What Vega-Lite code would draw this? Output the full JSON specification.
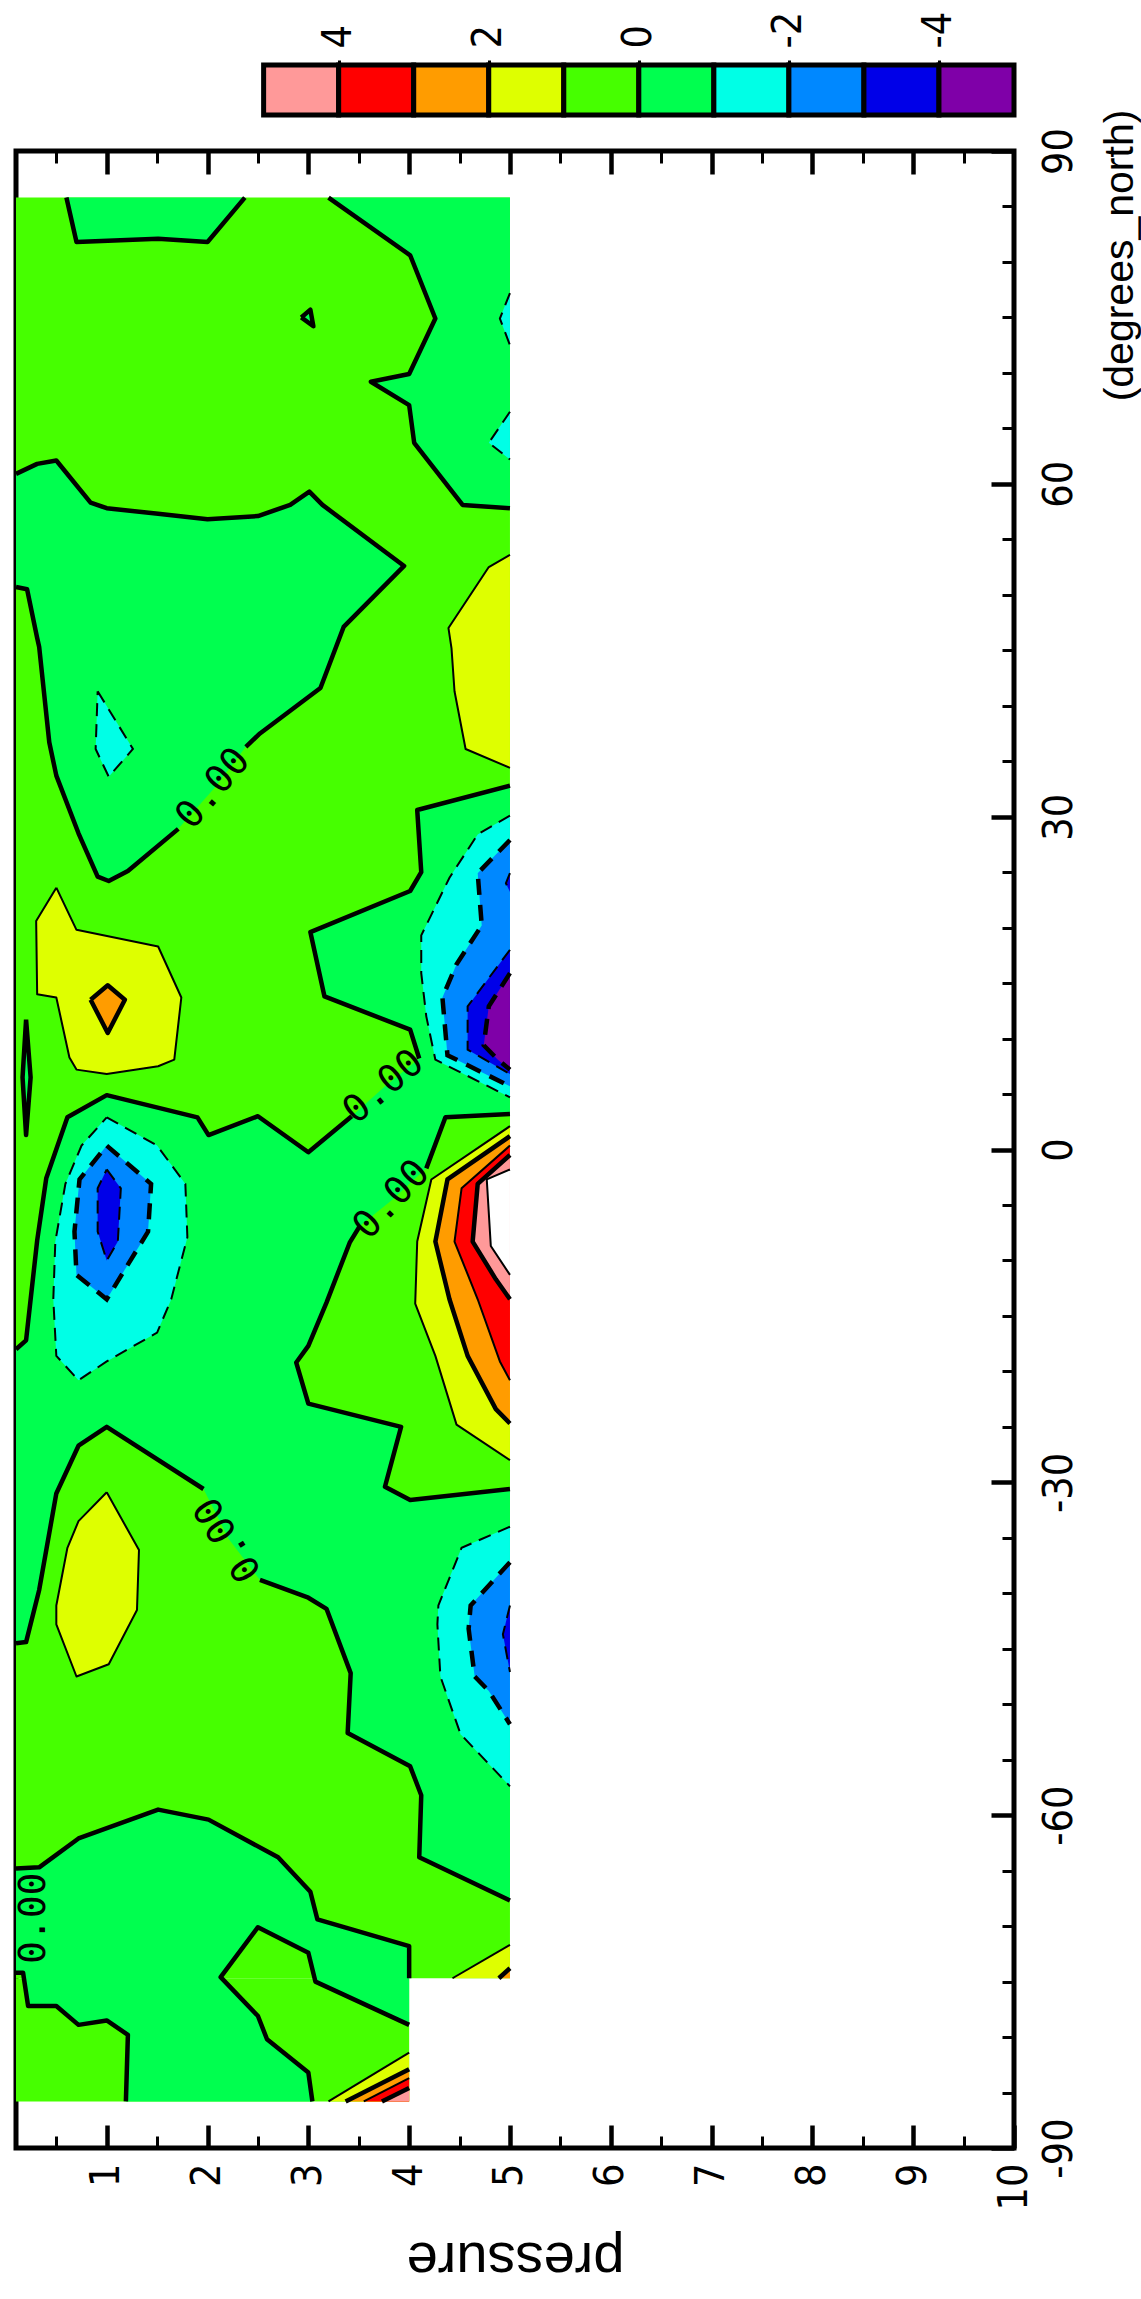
{
"$schema":"https://vega.github.io/schema/vega-lite/v6.json",
"padding":{"left":11,"top":11,"right":0,"bottom":6},
"spacing":36,
"bounds":"flush",
"datasets":{
"cb":[{"lo":4,"hi":5,"k":"pk"},{"lo":3,"hi":4,"k":"r"},{"lo":2,"hi":3,"k":"o"},{"lo":1,"hi":2,"k":"y"},{"lo":0,"hi":1,"k":"l"},{"lo":-1,"hi":0,"k":"g"},{"lo":-2,"hi":-1,"k":"c"},{"lo":-3,"hi":-2,"k":"a"},{"lo":-4,"hi":-3,"k":"b"},{"lo":-5,"hi":-4,"k":"pu"}],
"bg":[{"p1":0.1,"p2":5.0,"l1":-74.7,"l2":85.8},{"p1":0.1,"p2":4.0,"l1":-85.8,"l2":-74.7}],
"lab":[{"id":"a","p":2.06,"lat":32.5,"t":"0.00"},{"id":"b","p":3.75,"lat":5.6,"t":"0.00"},{"id":"c","p":3.83,"lat":-4.55,"t":"0.00"},{"id":"d","p":2.21,"lat":-35.1,"t":"0.00"},{"id":"e","p":0.28,"lat":-69.3,"t":"0.00"}],
"v":[
{"id":"G1","k":"g","o":1,"p":0.60,"lat":85.8,"c":0.60},{"id":"G1","k":"g","o":2,"p":0.70,"lat":81.8,"c":0.70},{"id":"G1","k":"g","o":3,"p":1.51,"lat":82.1,"c":1.51},{"id":"G1","k":"g","o":4,"p":2.00,"lat":81.8,"c":2.00},{"id":"G1","k":"g","o":5,"p":2.37,"lat":85.8,"c":2.37},
{"id":"G2","k":"g","o":1,"p":3.20,"lat":85.8,"c":3.20},{"id":"G2","k":"g","o":2,"p":4.01,"lat":80.6,"c":4.01},{"id":"G2","k":"g","o":3,"p":4.26,"lat":74.9,"c":4.26},{"id":"G2","k":"g","o":4,"p":4.00,"lat":69.9,"c":4.00},{"id":"G2","k":"g","o":5,"p":3.62,"lat":69.2,"c":3.62},{"id":"G2","k":"g","o":6,"p":4.00,"lat":67.1,"c":4.00},{"id":"G2","k":"g","o":7,"p":4.05,"lat":63.7,"c":4.05},{"id":"G2","k":"g","o":8,"p":4.53,"lat":58.1,"c":4.53},{"id":"G2","k":"g","o":9,"p":5.0,"lat":57.8,"c":5.0},{"id":"G2","k":"g","o":10,"p":5.0,"lat":85.8,"c":null},
{"id":"G3","k":"g","o":1,"p":0.1,"lat":60.9,"c":0.1},{"id":"G3","k":"g","o":2,"p":0.31,"lat":61.8,"c":0.31},{"id":"G3","k":"g","o":3,"p":0.50,"lat":62.1,"c":0.50},{"id":"G3","k":"g","o":4,"p":0.84,"lat":58.3,"c":0.84},{"id":"G3","k":"g","o":5,"p":1.00,"lat":57.8,"c":1.00},{"id":"G3","k":"g","o":6,"p":1.51,"lat":57.3,"c":1.51},{"id":"G3","k":"g","o":7,"p":2.00,"lat":56.8,"c":2.00},{"id":"G3","k":"g","o":8,"p":2.50,"lat":57.1,"c":2.50},{"id":"G3","k":"g","o":9,"p":2.82,"lat":58.1,"c":2.82},{"id":"G3","k":"g","o":10,"p":3.01,"lat":59.3,"c":3.01},{"id":"G3","k":"g","o":11,"p":3.14,"lat":58.1,"c":3.14},{"id":"G3","k":"g","o":12,"p":3.95,"lat":52.6,"c":3.95},{"id":"G3","k":"g","o":13,"p":3.35,"lat":47.1,"c":3.35},{"id":"G3","k":"g","o":14,"p":3.12,"lat":41.6,"c":3.12},{"id":"G3","k":"g","o":15,"p":2.52,"lat":37.5,"c":2.52},{"id":"G3","k":"g","o":16,"p":2.38,"lat":36.3,"c":2.38},{"id":"G3","k":"g","o":17,"p":2.06,"lat":32.5,"c":null},{"id":"G3","k":"g","o":18,"p":1.71,"lat":28.9,"c":1.71},{"id":"G3","k":"g","o":19,"p":1.21,"lat":25.1,"c":1.21},{"id":"G3","k":"g","o":20,"p":1.02,"lat":24.2,"c":1.02},{"id":"G3","k":"g","o":21,"p":0.91,"lat":24.6,"c":0.91},{"id":"G3","k":"g","o":22,"p":0.72,"lat":28.5,"c":0.72},{"id":"G3","k":"g","o":23,"p":0.50,"lat":33.7,"c":0.50},{"id":"G3","k":"g","o":24,"p":0.43,"lat":36.7,"c":0.43},{"id":"G3","k":"g","o":25,"p":0.33,"lat":45.3,"c":0.33},{"id":"G3","k":"g","o":26,"p":0.31,"lat":46.1,"c":0.31},{"id":"G3","k":"g","o":27,"p":0.21,"lat":50.5,"c":0.21},{"id":"G3","k":"g","o":28,"p":0.1,"lat":50.7,"c":0.1},
{"id":"G4","k":"g","o":1,"p":5.0,"lat":32.8,"c":5.0},{"id":"G4","k":"g","o":2,"p":4.08,"lat":30.6,"c":4.08},{"id":"G4","k":"g","o":3,"p":4.12,"lat":25.0,"c":4.12},{"id":"G4","k":"g","o":4,"p":4.01,"lat":23.3,"c":4.01},{"id":"G4","k":"g","o":5,"p":3.02,"lat":19.6,"c":3.02},{"id":"G4","k":"g","o":6,"p":3.16,"lat":13.8,"c":3.16},{"id":"G4","k":"g","o":7,"p":4.01,"lat":10.8,"c":4.01},{"id":"G4","k":"g","o":8,"p":4.10,"lat":8.2,"c":4.10},{"id":"G4","k":"g","o":9,"p":3.75,"lat":5.6,"c":null},{"id":"G4","k":"g","o":10,"p":3.43,"lat":3.0,"c":3.43},{"id":"G4","k":"g","o":11,"p":3.00,"lat":-0.25,"c":3.00},{"id":"G4","k":"g","o":12,"p":2.50,"lat":3.0,"c":2.50},{"id":"G4","k":"g","o":13,"p":2.01,"lat":1.3,"c":2.01},{"id":"G4","k":"g","o":14,"p":1.90,"lat":2.9,"c":1.90},{"id":"G4","k":"g","o":15,"p":1.00,"lat":4.9,"c":1.00},{"id":"G4","k":"g","o":16,"p":0.61,"lat":2.9,"c":0.61},{"id":"G4","k":"g","o":17,"p":0.40,"lat":-2.6,"c":0.40},{"id":"G4","k":"g","o":18,"p":0.31,"lat":-8.2,"c":0.31},{"id":"G4","k":"g","o":19,"p":0.20,"lat":-17.2,"c":0.20},{"id":"G4","k":"g","o":20,"p":0.1,"lat":-18.0,"c":0.1},{"id":"G4","k":"g","o":21,"p":0.1,"lat":-30.0,"c":null},{"id":"G4","k":"g","o":22,"p":0.1,"lat":-44.5,"c":0.1},{"id":"G4","k":"g","o":23,"p":0.20,"lat":-44.4,"c":0.20},{"id":"G4","k":"g","o":24,"p":0.33,"lat":-39.7,"c":0.33},{"id":"G4","k":"g","o":25,"p":0.50,"lat":-31.0,"c":0.50},{"id":"G4","k":"g","o":26,"p":0.72,"lat":-26.7,"c":0.72},{"id":"G4","k":"g","o":27,"p":1.00,"lat":-25.0,"c":1.00},{"id":"G4","k":"g","o":28,"p":1.96,"lat":-30.6,"c":1.96},{"id":"G4","k":"g","o":29,"p":2.21,"lat":-35.1,"c":null},{"id":"G4","k":"g","o":30,"p":2.52,"lat":-38.8,"c":2.52},{"id":"G4","k":"g","o":31,"p":3.00,"lat":-40.4,"c":3.00},{"id":"G4","k":"g","o":32,"p":3.18,"lat":-41.4,"c":3.18},{"id":"G4","k":"g","o":33,"p":3.42,"lat":-47.2,"c":3.42},{"id":"G4","k":"g","o":34,"p":3.39,"lat":-52.6,"c":3.39},{"id":"G4","k":"g","o":35,"p":4.01,"lat":-55.6,"c":4.01},{"id":"G4","k":"g","o":36,"p":4.12,"lat":-58.2,"c":4.12},{"id":"G4","k":"g","o":37,"p":4.10,"lat":-63.8,"c":4.10},{"id":"G4","k":"g","o":38,"p":5.0,"lat":-67.7,"c":5.0},{"id":"G4","k":"g","o":39,"p":5.0,"lat":-20.0,"c":null},
{"id":"G5","k":"g","o":1,"p":0.1,"lat":-64.8,"c":0.1},{"id":"G5","k":"g","o":2,"p":0.33,"lat":-64.7,"c":0.33},{"id":"G5","k":"g","o":3,"p":0.72,"lat":-62.1,"c":0.72},{"id":"G5","k":"g","o":4,"p":1.51,"lat":-59.5,"c":1.51},{"id":"G5","k":"g","o":5,"p":2.01,"lat":-60.4,"c":2.01},{"id":"G5","k":"g","o":6,"p":2.70,"lat":-63.8,"c":2.70},{"id":"G5","k":"g","o":7,"p":3.02,"lat":-66.9,"c":3.02},{"id":"G5","k":"g","o":8,"p":3.09,"lat":-69.4,"c":3.09},{"id":"G5","k":"g","o":9,"p":4.0,"lat":-71.8,"c":4.0},{"id":"G5","k":"g","o":10,"p":4.0,"lat":-74.7,"c":4.0},{"id":"G5","k":"g","o":11,"p":4.0,"lat":-77.0,"c":null},{"id":"G5","k":"g","o":12,"p":4.0,"lat":-78.9,"c":4.0},{"id":"G5","k":"g","o":13,"p":3.07,"lat":-75.0,"c":3.07},{"id":"G5","k":"g","o":14,"p":3.00,"lat":-72.4,"c":3.00},{"id":"G5","k":"g","o":15,"p":2.50,"lat":-70.1,"c":2.50},{"id":"G5","k":"g","o":16,"p":2.13,"lat":-74.6,"c":2.13},{"id":"G5","k":"g","o":17,"p":2.50,"lat":-78.1,"c":2.50},{"id":"G5","k":"g","o":18,"p":2.59,"lat":-80.2,"c":2.59},{"id":"G5","k":"g","o":19,"p":3.00,"lat":-83.2,"c":3.00},{"id":"G5","k":"g","o":20,"p":3.04,"lat":-85.8,"c":3.04},{"id":"G5","k":"g","o":21,"p":2.0,"lat":-85.8,"c":null},{"id":"G5","k":"g","o":22,"p":1.19,"lat":-85.8,"c":1.19},{"id":"G5","k":"g","o":23,"p":1.21,"lat":-79.8,"c":1.21},{"id":"G5","k":"g","o":24,"p":1.00,"lat":-78.5,"c":1.00},{"id":"G5","k":"g","o":25,"p":0.72,"lat":-78.9,"c":0.72},{"id":"G5","k":"g","o":26,"p":0.50,"lat":-77.2,"c":0.50},{"id":"G5","k":"g","o":27,"p":0.22,"lat":-77.2,"c":0.22},{"id":"G5","k":"g","o":28,"p":0.17,"lat":-74.2,"c":0.17},{"id":"G5","k":"g","o":29,"p":0.1,"lat":-74.2,"c":0.1},
{"id":"G6","k":"g","o":1,"p":0.20,"lat":11.7,"c":0.20},{"id":"G6","k":"g","o":2,"p":0.245,"lat":6.5,"c":0.245},{"id":"G6","k":"g","o":3,"p":0.20,"lat":1.3,"c":0.20},{"id":"G6","k":"g","o":4,"p":0.165,"lat":6.5,"c":0.165},{"id":"G6","k":"g","o":5,"p":0.20,"lat":11.7,"c":0.20},
{"id":"G7","k":"g","o":1,"p":2.93,"lat":75.0,"c":2.93},{"id":"G7","k":"g","o":2,"p":3.02,"lat":75.7,"c":3.02},{"id":"G7","k":"g","o":3,"p":3.05,"lat":74.2,"c":3.05},{"id":"G7","k":"g","o":4,"p":2.93,"lat":75.0,"c":2.93},
{"id":"L1","k":"l","o":1,"p":5.0,"lat":3.2,"c":5.0},{"id":"L1","k":"l","o":2,"p":4.36,"lat":2.9,"c":4.36},{"id":"L1","k":"l","o":3,"p":4.17,"lat":-1.7,"c":4.17},{"id":"L1","k":"l","o":4,"p":3.83,"lat":-4.55,"c":null},{"id":"L1","k":"l","o":5,"p":3.51,"lat":-6.9,"c":3.51},{"id":"L1","k":"l","o":6,"p":3.41,"lat":-8.4,"c":3.41},{"id":"L1","k":"l","o":7,"p":3.18,"lat":-13.8,"c":3.18},{"id":"L1","k":"l","o":8,"p":3.00,"lat":-17.7,"c":3.00},{"id":"L1","k":"l","o":9,"p":2.88,"lat":-19.2,"c":2.88},{"id":"L1","k":"l","o":10,"p":3.00,"lat":-22.9,"c":3.00},{"id":"L1","k":"l","o":11,"p":3.92,"lat":-25.0,"c":3.92},{"id":"L1","k":"l","o":12,"p":3.76,"lat":-30.4,"c":3.76},{"id":"L1","k":"l","o":13,"p":4.01,"lat":-31.6,"c":4.01},{"id":"L1","k":"l","o":14,"p":5.0,"lat":-30.6,"c":5.0},
{"id":"Y1","k":"y","o":1,"p":5.0,"lat":53.6,"c":5.0},{"id":"Y1","k":"y","o":2,"p":4.79,"lat":52.5,"c":4.79},{"id":"Y1","k":"y","o":3,"p":4.39,"lat":47.0,"c":4.39},{"id":"Y1","k":"y","o":4,"p":4.42,"lat":45.2,"c":4.42},{"id":"Y1","k":"y","o":5,"p":4.45,"lat":41.3,"c":4.45},{"id":"Y1","k":"y","o":6,"p":4.56,"lat":36.1,"c":4.56},{"id":"Y1","k":"y","o":7,"p":5.0,"lat":34.4,"c":5.0},
{"id":"Y2","k":"y","o":1,"p":0.50,"lat":23.6,"c":0.50},{"id":"Y2","k":"y","o":2,"p":0.70,"lat":19.8,"c":0.70},{"id":"Y2","k":"y","o":3,"p":1.51,"lat":18.3,"c":1.51},{"id":"Y2","k":"y","o":4,"p":1.74,"lat":13.7,"c":1.74},{"id":"Y2","k":"y","o":5,"p":1.67,"lat":8.1,"c":1.67},{"id":"Y2","k":"y","o":6,"p":1.51,"lat":7.5,"c":1.51},{"id":"Y2","k":"y","o":7,"p":1.00,"lat":6.8,"c":1.00},{"id":"Y2","k":"y","o":8,"p":0.70,"lat":7.2,"c":0.70},{"id":"Y2","k":"y","o":9,"p":0.63,"lat":8.3,"c":0.63},{"id":"Y2","k":"y","o":10,"p":0.50,"lat":13.7,"c":0.50},{"id":"Y2","k":"y","o":11,"p":0.31,"lat":14.0,"c":0.31},{"id":"Y2","k":"y","o":12,"p":0.30,"lat":20.6,"c":0.30},{"id":"Y2","k":"y","o":13,"p":0.50,"lat":23.6,"c":0.50},
{"id":"Y3","k":"y","o":1,"p":5.0,"lat":2.1,"c":5.0},{"id":"Y3","k":"y","o":2,"p":4.22,"lat":-2.7,"c":4.22},{"id":"Y3","k":"y","o":3,"p":4.08,"lat":-8.3,"c":4.08},{"id":"Y3","k":"y","o":4,"p":4.06,"lat":-13.9,"c":4.06},{"id":"Y3","k":"y","o":5,"p":4.26,"lat":-18.6,"c":4.26},{"id":"Y3","k":"y","o":6,"p":4.47,"lat":-24.8,"c":4.47},{"id":"Y3","k":"y","o":7,"p":5.0,"lat":-28.0,"c":5.0},
{"id":"Y4","k":"y","o":1,"p":1.00,"lat":-30.9,"c":1.00},{"id":"Y4","k":"y","o":2,"p":1.32,"lat":-36.1,"c":1.32},{"id":"Y4","k":"y","o":3,"p":1.30,"lat":-41.5,"c":1.30},{"id":"Y4","k":"y","o":4,"p":1.02,"lat":-46.4,"c":1.02},{"id":"Y4","k":"y","o":5,"p":0.70,"lat":-47.5,"c":0.70},{"id":"Y4","k":"y","o":6,"p":0.50,"lat":-42.8,"c":0.50},{"id":"Y4","k":"y","o":7,"p":0.50,"lat":-41.1,"c":0.50},{"id":"Y4","k":"y","o":8,"p":0.61,"lat":-35.9,"c":0.61},{"id":"Y4","k":"y","o":9,"p":0.72,"lat":-33.5,"c":0.72},{"id":"Y4","k":"y","o":10,"p":1.00,"lat":-30.9,"c":1.00},
{"id":"Y5","k":"y","o":1,"p":4.43,"lat":-74.7,"c":4.43},{"id":"Y5","k":"y","o":2,"p":5.0,"lat":-71.7,"c":5.0},{"id":"Y5","k":"y","o":3,"p":5.0,"lat":-74.7,"c":null},
{"id":"Y6","k":"y","o":1,"p":3.20,"lat":-85.8,"c":3.20},{"id":"Y6","k":"y","o":2,"p":4.0,"lat":-81.4,"c":4.0},{"id":"Y6","k":"y","o":3,"p":4.0,"lat":-85.8,"c":null},
{"id":"O1","k":"o","o":1,"p":0.84,"lat":13.5,"c":0.84},{"id":"O1","k":"o","o":2,"p":1.01,"lat":14.8,"c":1.01},{"id":"O1","k":"o","o":3,"p":1.18,"lat":13.5,"c":1.18},{"id":"O1","k":"o","o":4,"p":1.01,"lat":10.5,"c":1.01},{"id":"O1","k":"o","o":5,"p":0.84,"lat":13.5,"c":0.84},
{"id":"O2","k":"o","o":1,"p":5.0,"lat":1.2,"c":5.0},{"id":"O2","k":"o","o":2,"p":4.38,"lat":-2.7,"c":4.38},{"id":"O2","k":"o","o":3,"p":4.26,"lat":-8.3,"c":4.26},{"id":"O2","k":"o","o":4,"p":4.40,"lat":-13.5,"c":4.40},{"id":"O2","k":"o","o":5,"p":4.58,"lat":-18.6,"c":4.58},{"id":"O2","k":"o","o":6,"p":4.86,"lat":-23.4,"c":4.86},{"id":"O2","k":"o","o":7,"p":5.0,"lat":-24.7,"c":5.0},
{"id":"O3","k":"o","o":1,"p":4.89,"lat":-74.7,"c":4.89},{"id":"O3","k":"o","o":2,"p":5.0,"lat":-73.8,"c":5.0},{"id":"O3","k":"o","o":3,"p":5.0,"lat":-74.7,"c":null},
{"id":"O4","k":"o","o":1,"p":3.37,"lat":-85.8,"c":3.37},{"id":"O4","k":"o","o":2,"p":4.0,"lat":-82.9,"c":4.0},{"id":"O4","k":"o","o":3,"p":4.0,"lat":-85.8,"c":null},
{"id":"R1","k":"r","o":1,"p":5.0,"lat":0.35,"c":5.0},{"id":"R1","k":"r","o":2,"p":4.52,"lat":-3.5,"c":4.52},{"id":"R1","k":"r","o":3,"p":4.45,"lat":-8.3,"c":4.45},{"id":"R1","k":"r","o":4,"p":4.68,"lat":-13.5,"c":4.68},{"id":"R1","k":"r","o":5,"p":4.90,"lat":-19.1,"c":4.90},{"id":"R1","k":"r","o":6,"p":5.0,"lat":-20.8,"c":5.0},
{"id":"R2","k":"r","o":1,"p":3.55,"lat":-85.8,"c":3.55},{"id":"R2","k":"r","o":2,"p":4.0,"lat":-83.7,"c":4.0},{"id":"R2","k":"r","o":3,"p":4.0,"lat":-85.8,"c":null},
{"id":"K1","k":"pk","o":1,"p":5.0,"lat":-0.5,"c":5.0},{"id":"K1","k":"pk","o":2,"p":4.68,"lat":-3.1,"c":4.68},{"id":"K1","k":"pk","o":3,"p":4.63,"lat":-8.3,"c":4.63},{"id":"K1","k":"pk","o":4,"p":4.86,"lat":-11.7,"c":4.86},{"id":"K1","k":"pk","o":5,"p":5.0,"lat":-13.5,"c":5.0},
{"id":"K2","k":"pk","o":1,"p":3.73,"lat":-85.8,"c":3.73},{"id":"K2","k":"pk","o":2,"p":4.0,"lat":-84.6,"c":4.0},{"id":"K2","k":"pk","o":3,"p":4.0,"lat":-85.8,"c":null},
{"id":"W1","k":"w","o":1,"p":5.0,"lat":-1.8,"c":5.0},{"id":"W1","k":"w","o":2,"p":4.77,"lat":-2.7,"c":4.77},{"id":"W1","k":"w","o":3,"p":4.81,"lat":-8.7,"c":4.81},{"id":"W1","k":"w","o":4,"p":5.0,"lat":-11.3,"c":5.0},
{"id":"C1","k":"c","o":1,"p":5.0,"lat":77.2,"c":5.0},{"id":"C1","k":"c","o":2,"p":4.9,"lat":74.9,"c":4.9},{"id":"C1","k":"c","o":3,"p":5.0,"lat":72.5,"c":5.0},
{"id":"C2","k":"c","o":1,"p":5.0,"lat":66.5,"c":5.0},{"id":"C2","k":"c","o":2,"p":4.79,"lat":63.7,"c":4.79},{"id":"C2","k":"c","o":3,"p":5.0,"lat":62.2,"c":5.0},
{"id":"C3","k":"c","o":1,"p":0.91,"lat":41.3,"c":0.91},{"id":"C3","k":"c","o":2,"p":1.26,"lat":36.1,"c":1.26},{"id":"C3","k":"c","o":3,"p":1.02,"lat":33.6,"c":1.02},{"id":"C3","k":"c","o":4,"p":0.89,"lat":36.1,"c":0.89},{"id":"C3","k":"c","o":5,"p":0.91,"lat":41.3,"c":0.91},
{"id":"C4","k":"c","o":1,"p":1.00,"lat":2.9,"c":1.00},{"id":"C4","k":"c","o":2,"p":1.50,"lat":0.35,"c":1.50},{"id":"C4","k":"c","o":3,"p":1.78,"lat":-3.1,"c":1.78},{"id":"C4","k":"c","o":4,"p":1.80,"lat":-7.9,"c":1.80},{"id":"C4","k":"c","o":5,"p":1.64,"lat":-13.5,"c":1.64},{"id":"C4","k":"c","o":6,"p":1.50,"lat":-16.5,"c":1.50},{"id":"C4","k":"c","o":7,"p":1.00,"lat":-19.1,"c":1.00},{"id":"C4","k":"c","o":8,"p":0.72,"lat":-20.8,"c":0.72},{"id":"C4","k":"c","o":9,"p":0.50,"lat":-18.6,"c":0.50},{"id":"C4","k":"c","o":10,"p":0.47,"lat":-13.5,"c":0.47},{"id":"C4","k":"c","o":11,"p":0.49,"lat":-8.3,"c":0.49},{"id":"C4","k":"c","o":12,"p":0.59,"lat":-3.1,"c":0.59},{"id":"C4","k":"c","o":13,"p":0.75,"lat":0.35,"c":0.75},{"id":"C4","k":"c","o":14,"p":1.00,"lat":2.9,"c":1.00},
{"id":"C5","k":"c","o":1,"p":5.0,"lat":30.1,"c":5.0},{"id":"C5","k":"c","o":2,"p":4.68,"lat":28.4,"c":4.68},{"id":"C5","k":"c","o":3,"p":4.40,"lat":24.5,"c":4.40},{"id":"C5","k":"c","o":4,"p":4.12,"lat":19.3,"c":4.12},{"id":"C5","k":"c","o":5,"p":4.12,"lat":15.9,"c":4.12},{"id":"C5","k":"c","o":6,"p":4.17,"lat":12.0,"c":4.17},{"id":"C5","k":"c","o":7,"p":4.26,"lat":8.1,"c":4.26},{"id":"C5","k":"c","o":8,"p":5.0,"lat":4.7,"c":5.0},
{"id":"C6","k":"c","o":1,"p":5.0,"lat":-34.0,"c":5.0},{"id":"C6","k":"c","o":2,"p":4.52,"lat":-35.9,"c":4.52},{"id":"C6","k":"c","o":3,"p":4.29,"lat":-41.1,"c":4.29},{"id":"C6","k":"c","o":4,"p":4.28,"lat":-42.8,"c":4.28},{"id":"C6","k":"c","o":5,"p":4.31,"lat":-47.5,"c":4.31},{"id":"C6","k":"c","o":6,"p":4.51,"lat":-52.7,"c":4.51},{"id":"C6","k":"c","o":7,"p":5.0,"lat":-57.4,"c":5.0},
{"id":"A1","k":"a","o":1,"p":1.00,"lat":0.35,"c":1.00},{"id":"A1","k":"a","o":2,"p":1.44,"lat":-3.1,"c":1.44},{"id":"A1","k":"a","o":3,"p":1.41,"lat":-7.4,"c":1.41},{"id":"A1","k":"a","o":4,"p":1.00,"lat":-13.5,"c":1.00},{"id":"A1","k":"a","o":5,"p":0.70,"lat":-11.3,"c":0.70},{"id":"A1","k":"a","o":6,"p":0.68,"lat":-7.4,"c":0.68},{"id":"A1","k":"a","o":7,"p":0.73,"lat":-2.7,"c":0.73},{"id":"A1","k":"a","o":8,"p":1.00,"lat":0.35,"c":1.00},
{"id":"A2","k":"a","o":1,"p":5.0,"lat":27.9,"c":5.0},{"id":"A2","k":"a","o":2,"p":4.68,"lat":24.9,"c":4.68},{"id":"A2","k":"a","o":3,"p":4.72,"lat":20.2,"c":4.72},{"id":"A2","k":"a","o":4,"p":4.47,"lat":16.7,"c":4.47},{"id":"A2","k":"a","o":5,"p":4.33,"lat":13.7,"c":4.33},{"id":"A2","k":"a","o":6,"p":4.38,"lat":8.5,"c":4.38},{"id":"A2","k":"a","o":7,"p":5.0,"lat":5.7,"c":5.0},
{"id":"A3","k":"a","o":1,"p":5.0,"lat":-37.2,"c":5.0},{"id":"A3","k":"a","o":2,"p":4.61,"lat":-41.1,"c":4.61},{"id":"A3","k":"a","o":3,"p":4.59,"lat":-43.2,"c":4.59},{"id":"A3","k":"a","o":4,"p":4.65,"lat":-47.5,"c":4.65},{"id":"A3","k":"a","o":5,"p":4.79,"lat":-48.8,"c":4.79},{"id":"A3","k":"a","o":6,"p":5.0,"lat":-51.8,"c":5.0},
{"id":"B1","k":"b","o":1,"p":1.00,"lat":-1.8,"c":1.00},{"id":"B1","k":"b","o":2,"p":1.14,"lat":-3.5,"c":1.14},{"id":"B1","k":"b","o":3,"p":1.11,"lat":-8.3,"c":1.11},{"id":"B1","k":"b","o":4,"p":1.00,"lat":-10.0,"c":1.00},{"id":"B1","k":"b","o":5,"p":0.91,"lat":-7.4,"c":0.91},{"id":"B1","k":"b","o":6,"p":0.91,"lat":-3.5,"c":0.91},{"id":"B1","k":"b","o":7,"p":1.00,"lat":-1.8,"c":1.00},
{"id":"B2","k":"b","o":1,"p":5.0,"lat":18.0,"c":5.0},{"id":"B2","k":"b","o":2,"p":4.58,"lat":12.9,"c":4.58},{"id":"B2","k":"b","o":3,"p":4.58,"lat":9.0,"c":4.58},{"id":"B2","k":"b","o":4,"p":5.0,"lat":6.8,"c":5.0},
{"id":"B3","k":"b","o":1,"p":5.0,"lat":24.9,"c":5.0},{"id":"B3","k":"b","o":2,"p":4.96,"lat":24.0,"c":4.96},{"id":"B3","k":"b","o":3,"p":5.0,"lat":23.2,"c":5.0},
{"id":"B4","k":"b","o":1,"p":5.0,"lat":-41.1,"c":5.0},{"id":"B4","k":"b","o":2,"p":4.93,"lat":-43.7,"c":4.93},{"id":"B4","k":"b","o":3,"p":5.0,"lat":-47.1,"c":5.0},
{"id":"U1","k":"pu","o":1,"p":5.0,"lat":15.9,"c":5.0},{"id":"U1","k":"pu","o":2,"p":4.79,"lat":12.9,"c":4.79},{"id":"U1","k":"pu","o":3,"p":4.74,"lat":9.4,"c":4.74},{"id":"U1","k":"pu","o":4,"p":4.88,"lat":8.1,"c":4.88},{"id":"U1","k":"pu","o":5,"p":5.0,"lat":7.2,"c":5.0}
]},
"vconcat":[
{"width":998,"height":50,
"view":{"stroke":null},
"data":{"name":"cb"},
"mark":{"type":"rect","stroke":"black","strokeWidth":5},
"encoding":{
"x":{"field":"hi","type":"quantitative","scale":{"domain":[8.3,-5],"nice":false,"zero":false},"axis":{"orient":"top","values":[4,2,0,-2,-4],"tickSize":5,"tickWidth":3,"labelAngle":270,"labelAlign":"left","labelBaseline":"middle","labelPadding":12,"labelExpr":"replace(datum.label, '\u2212', '-')","title":null}},
"x2":{"field":"lo"},
"color":{"field":"k","type":"nominal","scale":{"domain":["pk","r","o","y","l","g","c","a","b","pu"],"range":["#FF9999","#FF0000","#FF9C00","#DEFF00","#46FF00","#00FF4F","#00FFE6","#0088FF","#0000E8","#7F00A8"]},"legend":null}
}},
{"width":998,"height":1997,
"layer":[
{"data":{"name":"bg"},"mark":{"type":"rect","color":"#46FF00"},
"encoding":{
"x":{"field":"p1","type":"quantitative","scale":{"domain":[0.1,10],"nice":false,"zero":false},"axis":{"orient":"bottom","values":[1,2,3,4,5,6,7,8,9,10],"tickSize":-23,"tickWidth":4.5,"labelAngle":270,"labelAlign":"right","labelBaseline":"middle","labelPadding":38,"title":"pressure","titleAngle":180,"titleAlign":"center","titleBaseline":"bottom","titleX":499,"titleY":82,"titleFontSize":56}},
"x2":{"field":"p2"},
"y":{"field":"l1","type":"quantitative","scale":{"domain":[-90,90],"nice":false,"zero":false},"axis":{"orient":"right","values":[-90,-60,-30,0,30,60,90],"tickSize":-23,"tickWidth":4.5,"labelAngle":270,"labelAlign":"center","labelBaseline":"top","labelPadding":48,"labelExpr":"replace(datum.label, '\u2212', '-')","title":"(degrees_north)","titleAngle":270,"titleAlign":"center","titleBaseline":"middle","titleX":106,"titleY":104,"titleFontSize":41}},
"y2":{"field":"l2"}}},
{"data":{"name":"v"},"transform":[{"filter":"datum.k=='g'"}],"mark":{"type":"line","filled":true,"color":"#00FF4F","strokeOpacity":0},
"encoding":{
"x":{"field":"p","type":"quantitative","scale":{"domain":[0.1,10],"nice":false,"zero":false},"axis":{"orient":"bottom","values":[0.5,1.5,2.5,3.5,4.5,5.5,6.5,7.5,8.5,9.5],"tickSize":-12,"tickWidth":3,"labels":false,"title":null}},
"y":{"field":"lat","type":"quantitative","scale":{"domain":[-90,90],"nice":false,"zero":false},"axis":{"orient":"right","values":[-85,-80,-75,-70,-65,-55,-50,-45,-40,-35,-25,-20,-15,-10,-5,5,10,15,20,25,35,40,45,50,55,65,70,75,80,85],"tickSize":-12,"tickWidth":3,"labels":false,"title":null}},
"detail":{"field":"id"},"order":{"field":"o","type":"quantitative"}}},
{"data":{"name":"v"},"transform":[{"filter":"datum.k=='l'"}],"mark":{"type":"line","filled":true,"color":"#46FF00","strokeOpacity":0},
"encoding":{"x":{"field":"p","type":"quantitative","scale":{"domain":[0.1,10],"nice":false,"zero":false},"axis":null},"y":{"field":"lat","type":"quantitative","scale":{"domain":[-90,90],"nice":false,"zero":false},"axis":null},"detail":{"field":"id"},"order":{"field":"o","type":"quantitative"}}},
{"data":{"name":"v"},"transform":[{"filter":"datum.k=='y'"}],"mark":{"type":"line","filled":true,"color":"#DEFF00","strokeOpacity":0},
"encoding":{"x":{"field":"p","type":"quantitative","scale":{"domain":[0.1,10],"nice":false,"zero":false},"axis":null},"y":{"field":"lat","type":"quantitative","scale":{"domain":[-90,90],"nice":false,"zero":false},"axis":null},"detail":{"field":"id"},"order":{"field":"o","type":"quantitative"}}},
{"data":{"name":"v"},"transform":[{"filter":"datum.k=='c'"}],"mark":{"type":"line","filled":true,"color":"#00FFE6","strokeOpacity":0},
"encoding":{"x":{"field":"p","type":"quantitative","scale":{"domain":[0.1,10],"nice":false,"zero":false},"axis":null},"y":{"field":"lat","type":"quantitative","scale":{"domain":[-90,90],"nice":false,"zero":false},"axis":null},"detail":{"field":"id"},"order":{"field":"o","type":"quantitative"}}},
{"data":{"name":"v"},"transform":[{"filter":"datum.k=='o'"}],"mark":{"type":"line","filled":true,"color":"#FF9C00","strokeOpacity":0},
"encoding":{"x":{"field":"p","type":"quantitative","scale":{"domain":[0.1,10],"nice":false,"zero":false},"axis":null},"y":{"field":"lat","type":"quantitative","scale":{"domain":[-90,90],"nice":false,"zero":false},"axis":null},"detail":{"field":"id"},"order":{"field":"o","type":"quantitative"}}},
{"data":{"name":"v"},"transform":[{"filter":"datum.k=='a'"}],"mark":{"type":"line","filled":true,"color":"#0088FF","strokeOpacity":0},
"encoding":{"x":{"field":"p","type":"quantitative","scale":{"domain":[0.1,10],"nice":false,"zero":false},"axis":null},"y":{"field":"lat","type":"quantitative","scale":{"domain":[-90,90],"nice":false,"zero":false},"axis":null},"detail":{"field":"id"},"order":{"field":"o","type":"quantitative"}}},
{"data":{"name":"v"},"transform":[{"filter":"datum.k=='r'"}],"mark":{"type":"line","filled":true,"color":"#FF0000","strokeOpacity":0},
"encoding":{"x":{"field":"p","type":"quantitative","scale":{"domain":[0.1,10],"nice":false,"zero":false},"axis":null},"y":{"field":"lat","type":"quantitative","scale":{"domain":[-90,90],"nice":false,"zero":false},"axis":null},"detail":{"field":"id"},"order":{"field":"o","type":"quantitative"}}},
{"data":{"name":"v"},"transform":[{"filter":"datum.k=='b'"}],"mark":{"type":"line","filled":true,"color":"#0000E8","strokeOpacity":0},
"encoding":{"x":{"field":"p","type":"quantitative","scale":{"domain":[0.1,10],"nice":false,"zero":false},"axis":null},"y":{"field":"lat","type":"quantitative","scale":{"domain":[-90,90],"nice":false,"zero":false},"axis":null},"detail":{"field":"id"},"order":{"field":"o","type":"quantitative"}}},
{"data":{"name":"v"},"transform":[{"filter":"datum.k=='pk'"}],"mark":{"type":"line","filled":true,"color":"#FF9999","strokeOpacity":0},
"encoding":{"x":{"field":"p","type":"quantitative","scale":{"domain":[0.1,10],"nice":false,"zero":false},"axis":null},"y":{"field":"lat","type":"quantitative","scale":{"domain":[-90,90],"nice":false,"zero":false},"axis":null},"detail":{"field":"id"},"order":{"field":"o","type":"quantitative"}}},
{"data":{"name":"v"},"transform":[{"filter":"datum.k=='pu'"}],"mark":{"type":"line","filled":true,"color":"#7F00A8","strokeOpacity":0},
"encoding":{"x":{"field":"p","type":"quantitative","scale":{"domain":[0.1,10],"nice":false,"zero":false},"axis":null},"y":{"field":"lat","type":"quantitative","scale":{"domain":[-90,90],"nice":false,"zero":false},"axis":null},"detail":{"field":"id"},"order":{"field":"o","type":"quantitative"}}},
{"data":{"name":"v"},"transform":[{"filter":"datum.k=='w'"}],"mark":{"type":"line","filled":true,"color":"#FFFFFF","strokeOpacity":0},
"encoding":{"x":{"field":"p","type":"quantitative","scale":{"domain":[0.1,10],"nice":false,"zero":false},"axis":null},"y":{"field":"lat","type":"quantitative","scale":{"domain":[-90,90],"nice":false,"zero":false},"axis":null},"detail":{"field":"id"},"order":{"field":"o","type":"quantitative"}}},
{"data":{"name":"v"},"transform":[{"filter":"datum.k=='g' || datum.k=='l' || datum.k=='o' || datum.k=='pk'"}],"mark":{"type":"line","color":"black","strokeWidth":4.5,"strokeJoin":"round","invalid":"break-paths-filter-domains"},
"encoding":{"x":{"field":"c","type":"quantitative","scale":{"domain":[0.1,10],"nice":false,"zero":false},"axis":{"orient":"top","values":[1,2,3,4,5,6,7,8,9],"tickSize":-23,"tickWidth":4.5,"labels":false,"title":null}},"y":{"field":"lat","type":"quantitative","scale":{"domain":[-90,90],"nice":false,"zero":false},"axis":{"orient":"left","values":[-60,-30,0,30,60],"tickSize":-23,"tickWidth":4.5,"labels":false,"title":null}},"detail":{"field":"id"},"order":{"field":"o","type":"quantitative"}}},
{"data":{"name":"v"},"transform":[{"filter":"datum.k=='y' || datum.k=='r' || datum.k=='w'"}],"mark":{"type":"line","color":"black","strokeWidth":2,"strokeJoin":"round","invalid":"break-paths-filter-domains"},
"encoding":{"x":{"field":"c","type":"quantitative","scale":{"domain":[0.1,10],"nice":false,"zero":false},"axis":{"orient":"top","values":[0.5,1.5,2.5,3.5,4.5,5.5,6.5,7.5,8.5,9.5],"tickSize":-12,"tickWidth":3,"labels":false,"title":null}},"y":{"field":"lat","type":"quantitative","scale":{"domain":[-90,90],"nice":false,"zero":false},"axis":{"orient":"left","values":[-85,-80,-75,-70,-65,-55,-50,-45,-40,-35,-25,-20,-15,-10,-5,5,10,15,20,25,35,40,45,50,55,65,70,75,80,85],"tickSize":-12,"tickWidth":3,"labels":false,"title":null}},"detail":{"field":"id"},"order":{"field":"o","type":"quantitative"}}},
{"data":{"name":"v"},"transform":[{"filter":"datum.k=='a' || datum.k=='pu'"}],"mark":{"type":"line","color":"black","strokeWidth":4.5,"strokeDash":[16,10],"invalid":"break-paths-filter-domains"},
"encoding":{"x":{"field":"c","type":"quantitative","scale":{"domain":[0.1,10],"nice":false,"zero":false},"axis":null},"y":{"field":"lat","type":"quantitative","scale":{"domain":[-90,90],"nice":false,"zero":false},"axis":null},"detail":{"field":"id"},"order":{"field":"o","type":"quantitative"}}},
{"data":{"name":"v"},"transform":[{"filter":"datum.k=='c' || datum.k=='b'"}],"mark":{"type":"line","color":"black","strokeWidth":2,"strokeDash":[13,8],"invalid":"break-paths-filter-domains"},
"encoding":{"x":{"field":"c","type":"quantitative","scale":{"domain":[0.1,10],"nice":false,"zero":false},"axis":null},"y":{"field":"lat","type":"quantitative","scale":{"domain":[-90,90],"nice":false,"zero":false},"axis":null},"detail":{"field":"id"},"order":{"field":"o","type":"quantitative"}}},
{"data":{"name":"lab"},"transform":[{"filter":"datum.id=='a'"}],"mark":{"type":"text","angle":310,"font":"DejaVu Sans Mono","fontSize":38},"encoding":{"x":{"field":"p","type":"quantitative","scale":{"domain":[0.1,10],"nice":false,"zero":false},"axis":null},"y":{"field":"lat","type":"quantitative","scale":{"domain":[-90,90],"nice":false,"zero":false},"axis":null},"text":{"field":"t"}}},
{"data":{"name":"lab"},"transform":[{"filter":"datum.id=='b'"}],"mark":{"type":"text","angle":320,"font":"DejaVu Sans Mono","fontSize":38},"encoding":{"x":{"field":"p","type":"quantitative","scale":{"domain":[0.1,10],"nice":false,"zero":false},"axis":null},"y":{"field":"lat","type":"quantitative","scale":{"domain":[-90,90],"nice":false,"zero":false},"axis":null},"text":{"field":"t"}}},
{"data":{"name":"lab"},"transform":[{"filter":"datum.id=='c'"}],"mark":{"type":"text","angle":313,"font":"DejaVu Sans Mono","fontSize":38},"encoding":{"x":{"field":"p","type":"quantitative","scale":{"domain":[0.1,10],"nice":false,"zero":false},"axis":null},"y":{"field":"lat","type":"quantitative","scale":{"domain":[-90,90],"nice":false,"zero":false},"axis":null},"text":{"field":"t"}}},
{"data":{"name":"lab"},"transform":[{"filter":"datum.id=='d'"}],"mark":{"type":"text","angle":238,"font":"DejaVu Sans Mono","fontSize":38},"encoding":{"x":{"field":"p","type":"quantitative","scale":{"domain":[0.1,10],"nice":false,"zero":false},"axis":null},"y":{"field":"lat","type":"quantitative","scale":{"domain":[-90,90],"nice":false,"zero":false},"axis":null},"text":{"field":"t"}}},
{"data":{"name":"lab"},"transform":[{"filter":"datum.id=='e'"}],"mark":{"type":"text","angle":270,"font":"DejaVu Sans Mono","fontSize":38},"encoding":{"x":{"field":"p","type":"quantitative","scale":{"domain":[0.1,10],"nice":false,"zero":false},"axis":null},"y":{"field":"lat","type":"quantitative","scale":{"domain":[-90,90],"nice":false,"zero":false},"axis":null},"text":{"field":"t"}}}
],
"resolve":{"axis":{"x":"independent","y":"independent"}}
}
],
"config":{"view":{"stroke":"black","strokeWidth":5},"axis":{"domain":false,"grid":false,"minExtent":0,"tickColor":"black","labelColor":"black","titleColor":"black","labelFont":"DejaVu Sans Condensed","labelFontSize":41,"titleFont":"Liberation Sans","titleFontWeight":"normal"}}
}
